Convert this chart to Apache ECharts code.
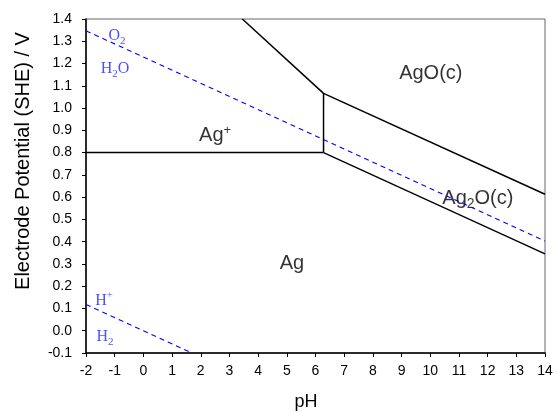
<!DOCTYPE html>
<html><head><meta charset="utf-8">
<script src="https://cdn.jsdelivr.net/npm/echarts@6/dist/echarts.min.js"></script>
<style>html,body{margin:0;padding:0;background:#fff}#c{width:556px;height:412px}</style>
</head><body><div id="c"></div>
<script>
// Boundary lines [pH, E]
const agPlusAg = [[-2, 0.80], [6.28, 0.80]];
const agPlusAgO = [[3.45, 1.40], [6.28, 1.066]];
const verticalBoundary = [[6.28, 0.80], [6.28, 1.066]];
const agoAg2o = [[6.28, 1.066], [14, 0.613]];
const ag2oAg = [[6.28, 0.80], [14, 0.345]];
const o2h2o = [[-2, 1.347], [14, 0.403]];
const hh2 = [[-2, 0.118], [1.69, -0.10]];
// Region labels [pH, E, text]
const blackLabels = [[2.5, 0.884, '{a|Ag}{p|+}'], [10.02, 1.166, '{a|AgO(c)}'], [11.66, 0.605, '{a|Ag}{s|2}{a|O(c)}'], [5.18, 0.313, '{a|Ag}']];
const blueLabels = [[-0.92, 1.335, '{a|O}{s|2}'], [-0.99, 1.185, '{a|H}{s|2}{a|O}'], [-1.37, 0.145, '{a|H}{p|+}'], [-1.34, -0.019, '{a|H}{s|2}']];
const xTicks = {min: -2, max: 14, interval: 1};
const yTicks = {min: -0.1, max: 1.4, interval: 0.1};
const xTitle = 'pH';
const yTitle = 'Electrode Potential (SHE) / V';

const chart = echarts.init(document.getElementById('c'));
const solid = (d) => ({type: 'line', data: d, symbol: 'none', lineStyle: {color: '#000', width: 1.5}, silent: true});
const dashed = (d) => ({type: 'line', data: d, symbol: 'none', lineStyle: {color: '#0000ff', width: 1.1, type: [5, 4]}, silent: true});
const sansRich = {
  a: {fontFamily: 'Liberation Sans', fontSize: 20, color: '#000', lineHeight: 24, verticalAlign: 'bottom'},
  s: {fontFamily: 'Liberation Sans', fontSize: 14, color: '#000', lineHeight: 24, verticalAlign: 'bottom', padding: [0, 0, -3, 0]},
  p: {fontFamily: 'Liberation Sans', fontSize: 13, color: '#000', lineHeight: 24, verticalAlign: 'top', padding: [2, 0, 0, 0]}
};
const serifRich = {
  a: {fontFamily: 'Liberation Serif', fontSize: 16, color: '#2222ff', lineHeight: 20, verticalAlign: 'bottom'},
  s: {fontFamily: 'Liberation Serif', fontSize: 11, color: '#2222ff', lineHeight: 20, verticalAlign: 'bottom', padding: [0, 0, -3, 0]},
  p: {fontFamily: 'Liberation Serif', fontSize: 11, color: '#2222ff', lineHeight: 20, verticalAlign: 'top', padding: [1, 0, 0, 0]}
};
const labelSeries = (arr, rich) => ({
  type: 'scatter', symbolSize: 0, silent: true,
  data: arr.map(d => ({value: [d[0], d[1]], label: {formatter: d[2]}})),
  label: {show: true, position: 'inside', rich: rich}
});
chart.setOption({
  animation: false,
  grid: {left: 86, right: 11, top: 19, bottom: 59, show: true, borderColor: '#666', borderWidth: 1},
  xAxis: {
    type: 'value', min: xTicks.min, max: xTicks.max, interval: xTicks.interval,
    axisLine: {onZero: false, lineStyle: {color: '#000', width: 1.5}},
    axisTick: {length: 4, lineStyle: {color: '#000'}},
    axisLabel: {fontFamily: 'Liberation Sans', fontSize: 14, color: '#000', margin: 11},
    splitLine: {show: false}
  },
  yAxis: {
    type: 'value', min: yTicks.min, max: yTicks.max, interval: yTicks.interval,
    axisLine: {onZero: false, lineStyle: {color: '#000', width: 1.5}},
    axisTick: {length: 4, lineStyle: {color: '#000'}},
    axisLabel: {fontFamily: 'Liberation Sans', fontSize: 14, color: '#000', margin: 14, formatter: v => v.toFixed(1)},
    splitLine: {show: false}
  },
  graphic: [
    {type: 'text', x: 306, y: 402, style: {text: xTitle, font: '18px "Liberation Sans"', fill: '#000', align: 'center', verticalAlign: 'middle'}},
    {type: 'text', x: 23, y: 161, rotation: Math.PI / 2, style: {text: yTitle, font: '20px "Liberation Sans"', fill: '#000', align: 'center', verticalAlign: 'middle'}}
  ],
  series: [
    dashed(o2h2o), dashed(hh2),
    solid(agPlusAg), solid(agPlusAgO), solid(verticalBoundary), solid(agoAg2o), solid(ag2oAg),
    labelSeries(blackLabels, sansRich), labelSeries(blueLabels, serifRich)
  ]
});
</script></body></html>
